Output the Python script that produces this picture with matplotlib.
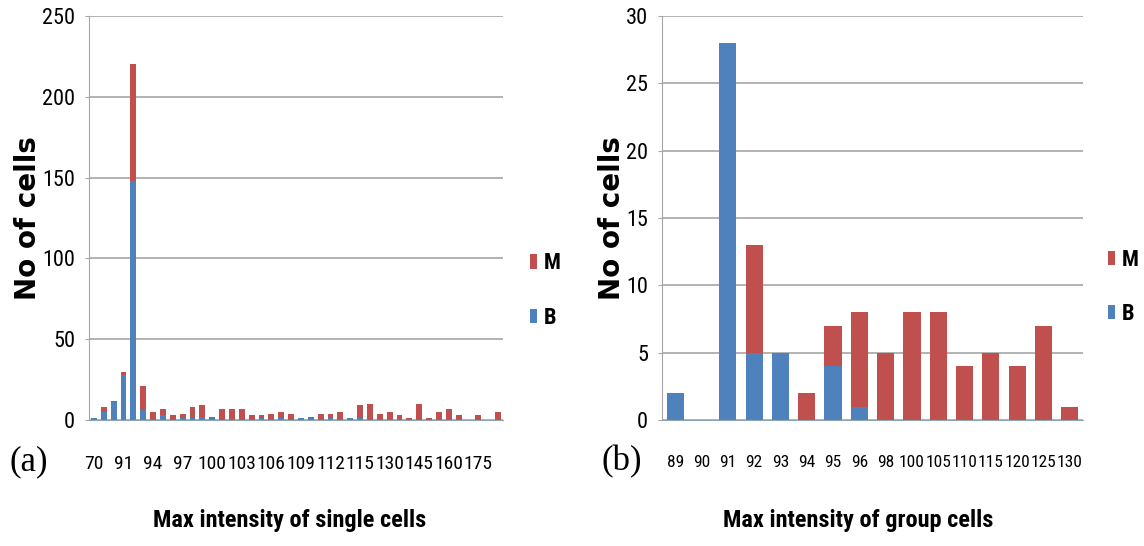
import numpy as np
import matplotlib
matplotlib.use("Agg")
import matplotlib.pyplot as plt
from matplotlib.patches import Patch
from matplotlib import font_manager

# ---- data ----
single_cats = ['70', '89', '90', '91', '92', '93', '94', '95', '96', '97', '98', '99',
               '100', '101', '102', '103', '104', '105', '106', '107', '108', '109',
               '110', '111', '112', '113', '114', '115', '120', '125', '130', '135',
               '140', '145', '150', '155', '160', '165', '170', '175', '180', '190']
single_B = [1, 5, 11, 28, 148, 6, 0, 3, 0, 1, 1, 2,
            1, 0, 0, 0, 0, 1, 0, 1, 0, 1,
            1, 0, 1, 0, 1, 1, 0, 0, 0, 0,
            0, 0, 0, 0, 0, 0, 0, 0, 0, 0]
single_M = [0, 3, 1, 2, 72, 15, 5, 4, 3, 3, 7, 7,
            1, 7, 7, 7, 3, 2, 4, 4, 4, 0,
            1, 4, 3, 5, 0, 8, 10, 4, 5, 3,
            1, 10, 1, 5, 7, 3, 0, 3, 0, 5]
single_ticks = ['70', '91', '94', '97', '100', '103', '106', '109', '112', '115',
                '130', '145', '160', '175']

group_cats = ['89', '90', '91', '92', '93', '94', '95', '96', '98', '100', '105',
              '110', '115', '120', '125', '130']
group_B = [2, 0, 28, 5, 5, 0, 4, 1, 0, 0, 0, 0, 0, 0, 0, 0]
group_M = [0, 0, 0, 8, 0, 2, 3, 7, 5, 8, 8, 4, 5, 4, 7, 1]

BLUE = '#4f81bd'
RED = '#c0504d'
GRID = '#a6a6a6'

# pick a condensed face if one is around, else plain Liberation Sans
installed = {f.name for f in font_manager.fontManager.ttflist}
NARROW = 'Liberation Sans'
scale = 0.85
for cand in ['Liberation Sans Narrow', 'DejaVu Sans Condensed', 'Roboto Condensed',
             'Open Sans Condensed', 'Arial Narrow']:
    if cand in installed:
        NARROW = cand
        scale = 1.0
        break

W, H = 1144, 546
fig = plt.figure(figsize=(W / 100, H / 100), dpi=100)


def px_axes(x0, x1, y0, y1):
    return fig.add_axes([x0 / W, 1 - y1 / H, (x1 - x0) / W, (y1 - y0) / H])


def style(ax, ymax, ystep, cats, ticks, legend_x, legend_y, xsize):
    ax.set_xlim(-0.5, len(cats) - 0.5)
    ax.set_ylim(0, ymax)
    ax.set_yticks(np.arange(0, ymax + 1, ystep))
    ax.grid(axis='y', color=GRID, linewidth=1.2)
    ax.set_axisbelow(True)
    for s in ['top', 'right']:
        ax.spines[s].set_visible(False)
    ax.spines['left'].set_color(GRID)
    ax.spines['bottom'].set_color('#8fa8b0')
    ax.tick_params(axis='y', length=3, color=GRID, pad=7)
    ax.tick_params(axis='x', length=0, pad=25)
    ax.set_xticks([cats.index(t) for t in ticks])
    ax.set_xticklabels(ticks)
    for lab in ax.get_yticklabels():
        lab.set_family(NARROW)
        lab.set_fontsize(16 * scale)
    for lab in ax.get_xticklabels():
        lab.set_family(NARROW)
        lab.set_fontsize(xsize * scale)
    handles = [Patch(facecolor=RED, label='M'), Patch(facecolor=BLUE, label='B')]
    ax.legend(handles=handles, loc='upper left', bbox_to_anchor=(legend_x, legend_y),
              frameon=False, borderpad=0, borderaxespad=0, labelspacing=1.45,
              handlelength=0.32, handleheight=0.6, handletextpad=0.3,
              prop={'family': NARROW, 'size': 16 * scale, 'weight': 'bold'})


# (a) single cells
ax1 = px_axes(89, 503, 16, 420)
x1 = np.arange(len(single_cats))
ax1.bar(x1, single_B, width=0.6, color=BLUE)
ax1.bar(x1, single_M, width=0.6, bottom=single_B, color=RED)
style(ax1, 250, 50, single_cats, single_ticks, 1.065, 0.415, 14)

# (b) group cells
ax2 = px_axes(662, 1083, 16, 420)
x2 = np.arange(len(group_cats))
ax2.bar(x2, group_B, width=0.65, color=BLUE)
ax2.bar(x2, group_M, width=0.65, bottom=group_B, color=RED)
style(ax2, 30, 5, group_cats, group_cats, 1.059, 0.424, 12.5)

# labels
for xc, txt in [(28, 'No of cells'), (612, 'No of cells')]:
    fig.text(xc / W, 1 - 218 / H, txt, rotation=90, ha='center', va='center',
             fontsize=20, fontweight='heavy', family='DejaVu Sans')
fig.text(290 / W, 1 - 520 / H, 'Max intensity of single cells', ha='center',
         va='center', fontsize=17.5 * scale, fontweight='bold', family=NARROW)
fig.text(858 / W, 1 - 520 / H, 'Max intensity of group cells', ha='center',
         va='center', fontsize=17.5 * scale, fontweight='bold', family=NARROW)
fig.text(29 / W, 1 - 462 / H, '(a)', ha='center', va='center', fontsize=25,
         family='Liberation Serif')
fig.text(622 / W, 1 - 462 / H, '(b)', ha='center', va='center', fontsize=25,
         family='Liberation Serif')

fig.savefig('out.png', dpi=100)
